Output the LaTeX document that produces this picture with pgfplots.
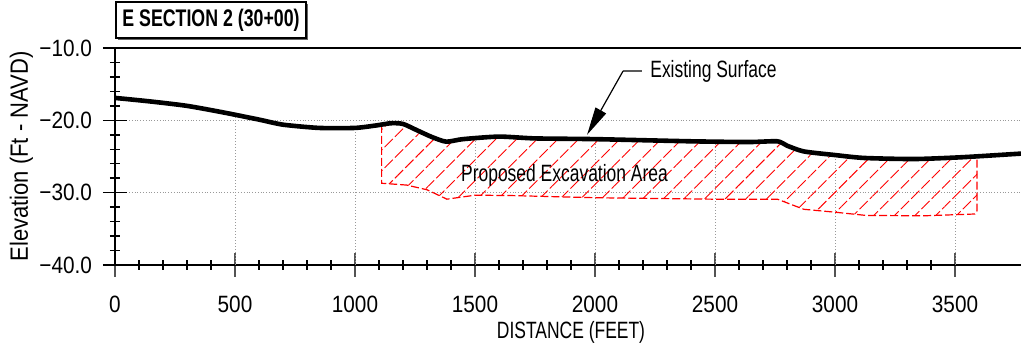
\documentclass[border=0pt]{standalone}
\usepackage{fontspec}
\setmainfont{Liberation Sans}[FakeStretch=0.74]
\newfontfamily\tickfont{Liberation Sans}[FakeStretch=0.88]
\usepackage{pgfplots}
\pgfplotsset{compat=1.18}
\usetikzlibrary{patterns.meta,arrows.meta,shadows}

\begin{document}
\begin{tikzpicture}
\begin{axis}[
  at={(0,0)}, anchor=south west,
  width=453pt, height=108.5pt, scale only axis,
  xmin=0, xmax=3775, ymin=-40, ymax=-10,
  axis lines=left, axis line style={-, line width=0.75pt},
  xtick={0,500,1000,1500,2000,2500,3000,3500},
  xticklabels={0,500,1000,1500,2000,2500,3000,3500},
  ytick={-40,-30,-20,-10}, yticklabels={−40.0,−30.0,−20.0,−10.0},
  minor x tick num=4, minor y tick num=4,
  tick align=center,
  major tick length=12pt, minor tick length=5pt,
  tick style={line width=0.75pt, black},
  major x tick style={gray!65!black, line width=1pt},
  ymajorgrids, major grid style={densely dotted, gray!80, line width=0.5pt},
  ticklabel style={font=\tickfont\fontsize{11.8}{13}\selectfont},
  xticklabel style={yshift=-6pt},
  yticklabel style={xshift=-2pt},
  xlabel={DISTANCE (FEET)}, ylabel={Elevation (Ft - NAVD)},
  xlabel style={at={(axis description cs:0.5033,-0.3088)}, anchor=center, font=\fontsize{11.8}{13}\selectfont},
  ylabel style={at={(axis description cs:-0.1032,0.5)}, anchor=center, font=\tickfont\fontsize{12.5}{14}\selectfont},
  clip=false,
]
% vertical grid lines (below the surface)
\draw[densely dotted, gray!80, line width=0.5pt] (axis cs:500,-40) -- (axis cs:500,-19.2);
\draw[densely dotted, gray!80, line width=0.5pt] (axis cs:1000,-40) -- (axis cs:1000,-21.0);
\draw[densely dotted, gray!80, line width=0.5pt] (axis cs:1500,-40) -- (axis cs:1500,-22.4);
\draw[densely dotted, gray!80, line width=0.5pt] (axis cs:2000,-40) -- (axis cs:2000,-22.6);
\draw[densely dotted, gray!80, line width=0.5pt] (axis cs:2500,-40) -- (axis cs:2500,-22.9);
\draw[densely dotted, gray!80, line width=0.5pt] (axis cs:3000,-40) -- (axis cs:3000,-24.8);
\draw[densely dotted, gray!80, line width=0.5pt] (axis cs:3500,-40) -- (axis cs:3500,-25.1);

% proposed excavation area
\addplot[draw=red, line width=0.6pt, dash pattern=on 4pt off 1.5pt,
  pattern={Lines[angle=45,distance=7.3pt,line width=0.45pt]}, pattern color=red]
  coordinates {
  (1111,-20.7) (1150,-20.4) (1200,-20.5) (1260,-21.4) (1320,-22.3) (1380,-22.95)
  (1450,-22.6) (1600,-22.25) (1750,-22.5) (2000,-22.6) (2400,-22.9) (2640,-23.0)
  (2760,-22.9) (2800,-23.5) (2870,-24.3) (3000,-24.8) (3120,-25.2) (3330,-25.35)
  (3530,-25.1) (3592,-25.0)
  (3592,-32.5) (3583,-32.95) (3370,-33.2) (3130,-33.15) (3000,-32.7) (2870,-32.3)
  (2760,-30.9) (2490,-30.9) (2000,-30.7) (1650,-30.4) (1500,-30.35) (1383,-30.9)
  (1300,-29.6) (1215,-28.95) (1111,-28.7) (1111,-20.7)};

% existing surface
\addplot[black, line width=2.3pt, smooth, tension=0.4] coordinates {
  (0,-16.9) (150,-17.4) (300,-18.0) (450,-18.9) (600,-19.9) (700,-20.6)
  (850,-21.05) (1000,-21.05) (1090,-20.7) (1150,-20.4) (1200,-20.5) (1260,-21.4)
  (1320,-22.3) (1380,-22.95) (1450,-22.6) (1600,-22.25) (1750,-22.5) (2000,-22.6)
  (2400,-22.9) (2640,-23.0) (2760,-22.9) (2800,-23.5) (2870,-24.3) (3000,-24.8)
  (3120,-25.2) (3330,-25.35) (3530,-25.1) (3775,-24.6)};

% top frame line
\draw[line width=0.75pt] (rel axis cs:0,1) -- (rel axis cs:1,1);

% annotations
\draw[gray!70!black, line width=0.6pt] (axis cs:2117,-13.18) -- (axis cs:2196,-13.18);
\draw[black, line width=0.6pt, -{Triangle[length=14pt,width=6pt]}] (axis cs:2117,-13.18) -- (axis cs:1967,-22.0);
\node[anchor=base west, inner sep=0pt, font=\fontsize{11.8}{13}\selectfont] at (axis cs:2229,-14.05) {Existing Surface};
\node[anchor=base, inner sep=0pt, font=\fontsize{11.8}{13}\selectfont] at (axis cs:1873,-28.48) {Proposed Excavation Area};
\end{axis}

\node[draw, line width=0.6pt, fill=white,
  drop shadow={shadow xshift=0.8pt, shadow yshift=-0.8pt, fill=black!60, opacity=1},
  minimum width=95pt, minimum height=18pt, inner sep=0pt,
  font=\bfseries\fontsize{12}{14}\selectfont] at (48pt,122.5pt) {E SECTION 2 (30+00)};

\pgfresetboundingbox
\path[use as bounding box] (-57.5pt,-40.5pt) rectangle (453pt,132.5pt);
\end{tikzpicture}
\end{document}
